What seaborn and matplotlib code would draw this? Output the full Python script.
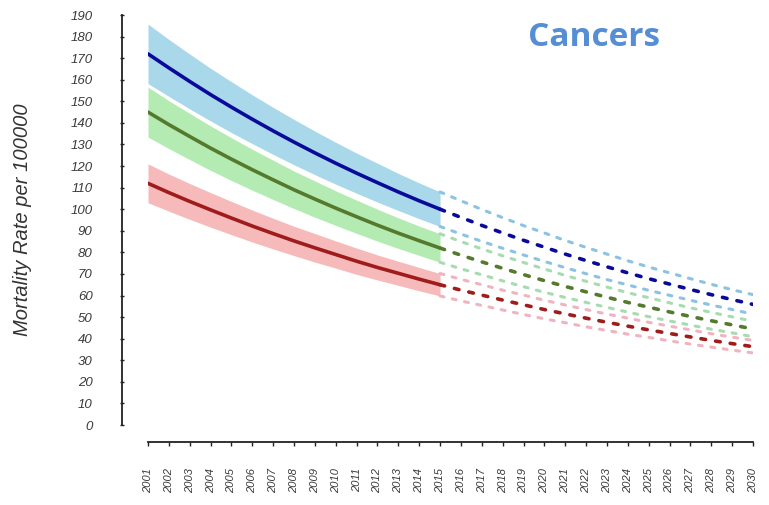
import numpy as np
import pandas as pd
import matplotlib
matplotlib.use("Agg")
import matplotlib.pyplot as plt
import seaborn as sns

years = list(range(2001, 2031))
year_labels = [str(y) for y in years]
yticks = list(range(0, 200, 10))

blue_mid = [172.0, 165.5, 159.2, 153.1, 147.3, 141.7, 136.3, 131.1, 126.1, 121.3, 116.7, 112.3, 108.0, 103.9, 100.0,
            96.2, 92.5, 89.0, 85.6, 82.4, 79.2, 76.2, 73.3, 70.5, 67.8, 65.3, 62.8, 60.4, 58.1, 55.9]
blue_hi = [185.8, 178.7, 171.9, 165.3, 159.1, 153.0, 147.2, 141.6, 136.2, 131.0, 126.0, 121.3, 116.6, 112.2, 108.0,
           103.9, 99.9, 96.1, 92.4, 89.0, 85.5, 82.3, 79.2, 76.1, 73.2, 70.5, 67.8, 65.2, 62.7, 60.4]
blue_lo = [158.2, 152.3, 146.5, 140.9, 135.5, 130.4, 125.4, 120.6, 116.0, 111.6, 107.4, 103.3, 99.4, 95.6, 92.0,
           88.5, 85.1, 81.9, 78.8, 75.8, 72.9, 70.1, 67.4, 64.9, 62.4, 60.1, 57.8, 55.6, 53.5, 51.4]

green_mid = [145.0, 139.2, 133.7, 128.3, 123.2, 118.3, 113.6, 109.0, 104.7, 100.5, 96.5, 92.6, 88.9, 85.4, 82.0,
             78.7, 75.6, 72.6, 69.7, 66.9, 64.2, 61.7, 59.2, 56.8, 54.6, 52.4, 50.3, 48.3, 46.4, 44.5]
green_hi = [156.6, 150.3, 144.4, 138.6, 133.1, 127.8, 122.7, 117.7, 113.1, 108.5, 104.2, 100.0, 96.0, 92.2, 88.6,
            85.0, 81.6, 78.4, 75.3, 72.3, 69.3, 66.6, 63.9, 61.3, 59.0, 56.6, 54.3, 52.2, 50.1, 48.1]
green_lo = [133.4, 128.1, 123.0, 118.0, 113.3, 108.8, 104.5, 100.3, 96.3, 92.5, 88.8, 85.2, 81.8, 78.6, 75.4,
            72.4, 69.6, 66.8, 64.1, 61.5, 59.1, 56.8, 54.5, 52.3, 50.2, 48.2, 46.3, 44.4, 42.7, 40.9]

red_mid = [112.0, 107.7, 103.6, 99.7, 95.9, 92.2, 88.7, 85.3, 82.1, 79.0, 75.9, 73.0, 70.3, 67.6, 65.0,
           62.5, 60.2, 57.9, 55.7, 53.5, 51.5, 49.5, 47.6, 45.8, 44.1, 42.4, 40.8, 39.2, 37.7, 36.3]
red_hi = [121.0, 116.3, 111.9, 107.7, 103.6, 99.6, 95.8, 92.1, 88.7, 85.3, 82.0, 78.8, 75.9, 73.0, 70.2,
          67.5, 65.0, 62.5, 60.2, 57.8, 55.6, 53.5, 51.4, 49.5, 47.6, 45.8, 44.1, 42.3, 40.7, 39.2]
red_lo = [103.0, 99.1, 95.3, 91.7, 88.2, 84.8, 81.6, 78.5, 75.5, 72.7, 69.8, 67.2, 64.7, 62.2, 59.8,
          57.5, 55.4, 53.3, 51.2, 49.2, 47.4, 45.5, 43.8, 42.1, 40.6, 39.0, 37.5, 36.1, 34.7, 33.4]

split_year = 2015
title = "Cancers"
ylabel = "Mortality Rate per 100000"

series = [
    ("blue", blue_mid, blue_lo, blue_hi, "#0a0a9a", "#a9d8ea", "#8cc3e0"),
    ("green", green_mid, green_lo, green_hi, "#557a2e", "#b3ebb3", "#a6dcb0"),
    ("red", red_mid, red_lo, red_hi, "#a01c1c", "#f7baba", "#f0b4c0"),
]

sns.set_theme(style="white")
plt.rcParams['font.family'] = ['Liberation Sans', 'DejaVu Sans']

fig = plt.figure(figsize=(7.69, 5.05), dpi=100)
ax = fig.add_axes([148 / 769, 80 / 505, (753 - 148) / 769, (425 - 15) / 505])

df_rows = []
for name, mid, lo, hi, *_ in series:
    for y, m, l, h in zip(years, mid, lo, hi):
        df_rows.append(dict(series=name, year=y, mid=m, lo=l, hi=h))
df = pd.DataFrame(df_rows)

dash = (1.3, 2.8)
for name, mid, lo, hi, dark, band, band_dash in series:
    d = df[df.series == name]
    hist = d[d.year <= split_year]
    fut = d[d.year >= split_year]
    ax.fill_between(hist.year, hist.lo, hist.hi, color=band, lw=0, zorder=1)
    for col in ("lo", "hi"):
        sns.lineplot(data=fut, x="year", y=col, ax=ax, color=band_dash, lw=2.2, zorder=2)
        ax.lines[-1].set_dashes(dash)
        ax.lines[-1].set_dash_capstyle("round")
for name, mid, lo, hi, dark, band, band_dash in series:
    d = df[df.series == name]
    hist = d[d.year <= split_year]
    fut = d[d.year >= split_year]
    sns.lineplot(data=hist, x="year", y="mid", ax=ax, color=dark, lw=2.6, zorder=3)
    sns.lineplot(data=fut, x="year", y="mid", ax=ax, color=dark, lw=2.6, zorder=3)
    ax.lines[-1].set_dashes(dash)
    ax.lines[-1].set_dash_capstyle("round")

# offset spines first (this resets tick formatting), then style ticks
sns.despine(ax=ax, offset={"left": 19, "bottom": 12})
for s in ("left", "bottom"):
    ax.spines[s].set_color("#222222")
    ax.spines[s].set_linewidth(1.3)

ax.set_xlim(2001, 2030)
ax.set_ylim(0, 190)
ax.set_xticks(years)
ax.set_xticklabels(year_labels, rotation=90, fontsize=8, style="italic", color="#3a3a3a")
ax.set_yticks(yticks)
ax.set_yticklabels([str(v) for v in yticks], fontsize=9.5, style="italic", color="#3a3a3a")
ax.set_xlabel("")
ax.set_ylabel(ylabel, fontsize=14.5, style="italic", color="#333333", labelpad=28)

ax.tick_params(axis="y", which="major", direction="inout", length=3.5, width=1,
               color="#222222", left=True, pad=19)
ax.tick_params(axis="x", which="major", direction="out", length=3, width=1,
               color="#222222", bottom=True, pad=16)
ax.grid(False)

fig.text(594 / 769, 1 - 37 / 505, title, fontsize=24, fontweight="bold", color="#558ed5",
         ha="center", va="center", family=["Open Sans", "DejaVu Sans"])

fig.savefig("out.png", dpi=100)
